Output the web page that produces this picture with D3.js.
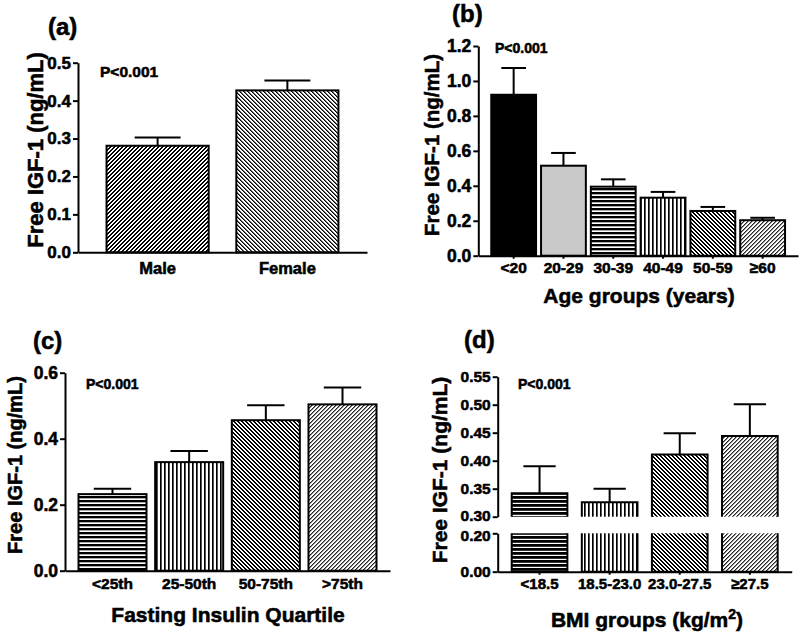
<!DOCTYPE html>
<html>
<head>
<meta charset="utf-8">
<script src="https://cdn.jsdelivr.net/npm/d3@7"></script>
<style>
  body { margin: 0; background: #fff; }
  text { font-family: "Liberation Sans", Arial, sans-serif; font-weight: bold; fill: #000; stroke: #000; stroke-width: 0.55px; }
</style>
</head>
<body>
<svg id="fig" width="800" height="634"></svg>
<script>
// ---- data (mean and SEM) ----
const sexGroups = ["Male", "Female"];
const sexMean = [0.281, 0.427];
const sexSem = [0.022, 0.026];
const sexTicks = [0, 0.1, 0.2, 0.3, 0.4, 0.5];

const ageGroups = ["<20", "20-29", "30-39", "40-49", "50-59", "≥60"];
const ageMean = [0.921, 0.515, 0.395, 0.332, 0.256, 0.203];
const ageSem = [0.153, 0.073, 0.042, 0.033, 0.023, 0.014];
const ageTicks = [0, 0.2, 0.4, 0.6, 0.8, 1.0, 1.2];

const insulinGroups = ["<25th", "25-50th", "50-75th", ">75th"];
const insulinMean = [0.232, 0.329, 0.456, 0.504];
const insulinSem = [0.016, 0.034, 0.045, 0.051];
const insulinTicks = [0, 0.2, 0.4, 0.6];

const bmiGroups = ["<18.5", "18.5-23.0", "23.0-27.5", "≥27.5"];
const bmiMean = [0.342, 0.326, 0.411, 0.444];
const bmiSem = [0.048, 0.024, 0.038, 0.057];
const bmiTicksUpper = [0.30, 0.35, 0.40, 0.45, 0.50, 0.55];
const bmiTicksLower = [0.00, 0.20];

const fig = d3.select("#fig");
const defs = fig.append("defs");

// pixel hatch tiles: seq gives the colour of each step across the period
// kind: "h" horizontal, "v" vertical, "f" forward (/), "b" back (\)
function addHatch(id, kind, seq) {
  const p = seq.length;
  const pat = defs.append("pattern")
    .attr("id", id)
    .attr("patternUnits", "userSpaceOnUse")
    .attr("width", p).attr("height", p)
    .attr("shape-rendering", "crispEdges");
  pat.append("rect").attr("width", p).attr("height", p).attr("fill", "#fff");
  for (let r = 0; r < p; r++) {
    for (let c = 0; c < p; c++) {
      let k;
      if (kind === "h") k = r;
      else if (kind === "v") k = c;
      else if (kind === "f") k = (c + r) % p;
      else k = (c - r + p) % p;
      if (seq[k] === "#fff") continue;
      pat.append("rect").attr("x", c).attr("y", r).attr("width", 1).attr("height", 1).attr("fill", seq[k]);
    }
  }
}
addHatch("fwdDense", "f", ["#000", "#000", "#fff", "#fff"]);
addHatch("backLight", "b", ["#000", "#666", "#fff", "#fff"]);
addHatch("backDense", "b", ["#000", "#000", "#fff", "#fff"]);
addHatch("fwdLight", "f", ["#222", "#888", "#fff", "#fff"]);
addHatch("horiz", "h", ["#000", "#000", "#aaa", "#fff"]);
addHatch("horizDark", "h", ["#000", "#000", "#333", "#fff"]);
addHatch("vert", "v", ["#000", "#555", "#fff", "#fff"]);

function fillOf(f) {
  return f[0] === "#" ? f : "url(#" + f + ")";
}

function styleAxis(sel, size) {
  sel.attr("font-family", "Liberation Sans, Arial, sans-serif")
    .attr("font-size", size)
    .attr("font-weight", "bold");
  sel.selectAll("path, line").attr("stroke", "#000").attr("stroke-width", 2);
  sel.selectAll("text").attr("fill", "#000");
}

function addText(t, x, y, size, anchor) {
  return fig.append("text")
    .attr("x", x).attr("y", y)
    .attr("text-anchor", anchor || "start")
    .style("font-size", size + "px")
    .text(t);
}

function yLabel(bx, cy, size) {
  fig.append("text")
    .attr("transform", "translate(" + bx + "," + cy + ") rotate(-90)")
    .attr("text-anchor", "middle")
    .style("font-size", size + "px")
    .text("Free IGF-1 (ng/mL)");
}

function errorBars(g, x, cats, mean, sem, yf, capFrac) {
  const w = x.bandwidth() * capFrac;
  cats.forEach(function (d, i) {
    const cx = x(d) + x.bandwidth() / 2;
    const top = yf(mean[i] + sem[i]);
    g.append("line")
      .attr("x1", cx).attr("x2", cx)
      .attr("y1", yf(mean[i])).attr("y2", top)
      .attr("stroke", "#000").attr("stroke-width", 2);
    g.append("line")
      .attr("x1", cx - w / 2).attr("x2", cx + w / 2)
      .attr("y1", top).attr("y2", top)
      .attr("stroke", "#000").attr("stroke-width", 2);
  });
}

function drawPanel(c) {
  const g = fig.append("g");
  const x = d3.scaleBand().domain(c.cats).range(c.x)
    .paddingInner(c.padIn).paddingOuter(c.padOut);
  const y = d3.scaleLinear().domain([0, c.yMax]).range([c.y0, c.y1]);

  g.selectAll("rect.bar")
    .data(c.cats)
    .join("rect")
    .attr("class", "bar")
    .attr("x", d => x(d))
    .attr("y", (d, i) => y(c.mean[i]))
    .attr("width", x.bandwidth())
    .attr("height", (d, i) => y(0) - y(c.mean[i]))
    .attr("fill", (d, i) => fillOf(c.fills[i]))
    .attr("stroke", "#000")
    .attr("stroke-width", 2);

  errorBars(g, x, c.cats, c.mean, c.sem, y, c.cap);

  g.append("g")
    .attr("transform", "translate(" + c.x[0] + ",0)")
    .call(d3.axisLeft(y).tickValues(c.yTicks).tickFormat(d3.format(c.fmt))
      .tickSize(5).tickPadding(2).tickSizeOuter(0))
    .call(styleAxis, c.yFont);

  g.append("g")
    .attr("transform", "translate(0," + c.y0 + ")")
    .call(d3.axisBottom(x).tickSize(c.xTick).tickPadding(c.xPad).tickSizeOuter(0))
    .call(styleAxis, c.xFont);
}

// (a) sex
drawPanel({
  cats: sexGroups, mean: sexMean, sem: sexSem,
  fills: ["fwdDense", "backLight"],
  x: [78, 367], padIn: 0.213, padOut: 0.22,
  y0: 252.3, y1: 62.7, yMax: 0.5, yTicks: sexTicks, fmt: ".1f",
  yFont: 17, xFont: 16.5, xTick: 0, xPad: 10, cap: 0.45
});
addText("(a)", 48, 35, 24);
addText("P<0.001", 100, 77, 15.5);
yLabel(43, 150, 22);

// (b) age
drawPanel({
  cats: ageGroups, mean: ageMean, sem: ageSem,
  fills: ["#000000", "#c8c8c8", "horiz", "vert", "backDense", "fwdLight"],
  x: [478.3, 798], padIn: 0.1, padOut: 0.26,
  y0: 255.7, y1: 46, yMax: 1.2, yTicks: ageTicks, fmt: ".1f",
  yFont: 17.5, xFont: 15.5, xTick: 3, xPad: 3.5, cap: 0.55
});
addText("(b)", 452, 22, 24);
addText("P<0.001", 495, 53, 14);
yLabel(439, 145, 20.5);
addText("Age groups (years)", 639, 303, 21, "middle");

// (c) fasting insulin
drawPanel({
  cats: insulinGroups, mean: insulinMean, sem: insulinSem,
  fills: ["horiz", "vert", "backDense", "fwdLight"],
  x: [65, 390], padIn: 0.113, padOut: 0.176,
  y0: 570.7, y1: 372.7, yMax: 0.6, yTicks: insulinTicks, fmt: ".1f",
  yFont: 17.5, xFont: 15.5, xTick: 0, xPad: 7, cap: 0.55
});
addText("(c)", 33, 349, 24);
addText("P<0.001", 86, 389, 14);
yLabel(21.5, 465, 20);
addText("Fasting Insulin Quartile", 228, 622, 21, "middle");

// (d) BMI, broken y axis
(function () {
  const g = fig.append("g");
  const x = d3.scaleBand().domain(bmiGroups).range([497.7, 791.7])
    .paddingInner(0.206).paddingOuter(0.2);
  const yU = d3.scaleLinear().domain([0.30, 0.55]).range([516.7, 376.7]);
  const yL = d3.scaleLinear().domain([0, 0.20]).range([571.7, 533.3]);
  const fills = ["horizDark", "vert", "backDense", "fwdLight"];
  const bw = x.bandwidth();

  bmiGroups.forEach(function (d, i) {
    const x0 = x(d), x1 = x(d) + bw;
    // upper segment
    g.append("rect")
      .attr("x", x0).attr("y", yU(bmiMean[i]))
      .attr("width", bw).attr("height", yU(0.30) - yU(bmiMean[i]))
      .attr("fill", fillOf(fills[i]));
    g.append("path")
      .attr("d", "M" + x0 + "," + yU(0.30) + "V" + yU(bmiMean[i]) + "H" + x1 + "V" + yU(0.30))
      .attr("fill", "none").attr("stroke", "#000").attr("stroke-width", 2);
    // lower segment
    g.append("rect")
      .attr("x", x0).attr("y", yL(0.20))
      .attr("width", bw).attr("height", yL(0) - yL(0.20))
      .attr("fill", fillOf(fills[i]));
    g.append("path")
      .attr("d", "M" + x0 + "," + yL(0.20) + "V" + yL(0) + "H" + x1 + "V" + yL(0.20))
      .attr("fill", "none").attr("stroke", "#000").attr("stroke-width", 2);
  });

  errorBars(g, x, bmiGroups, bmiMean, bmiSem, yU, 0.58);

  g.append("g")
    .attr("transform", "translate(497.7,0)")
    .call(d3.axisLeft(yU).tickValues(bmiTicksUpper).tickFormat(d3.format(".2f"))
      .tickSize(5).tickPadding(2).tickSizeOuter(0))
    .call(styleAxis, 15.5)
    .call(a => a.selectAll("text").filter(d => d === 0.30).attr("dy", "0.22em"));
  g.append("g")
    .attr("transform", "translate(497.7,0)")
    .call(d3.axisLeft(yL).tickValues(bmiTicksLower).tickFormat(d3.format(".2f"))
      .tickSize(5).tickPadding(2).tickSizeOuter(0))
    .call(styleAxis, 15.5)
    .call(a => a.selectAll("text").filter(d => d === 0.20).attr("dy", "0.45em"));
  g.append("g")
    .attr("transform", "translate(0," + yL(0) + ")")
    .call(d3.axisBottom(x).tickSize(3).tickPadding(4).tickSizeOuter(0))
    .call(styleAxis, 15);
})();
addText("(d)", 464, 348, 24);
addText("P<0.001", 518, 389, 14);
yLabel(446.5, 470, 21);
const bmiTitle = addText("BMI groups (kg/m", 647, 627, 21, "middle");
bmiTitle.append("tspan").attr("dy", -8).style("font-size", "14px").text("2");
bmiTitle.append("tspan").attr("dy", 8).text(")");
</script>
</body>
</html>
